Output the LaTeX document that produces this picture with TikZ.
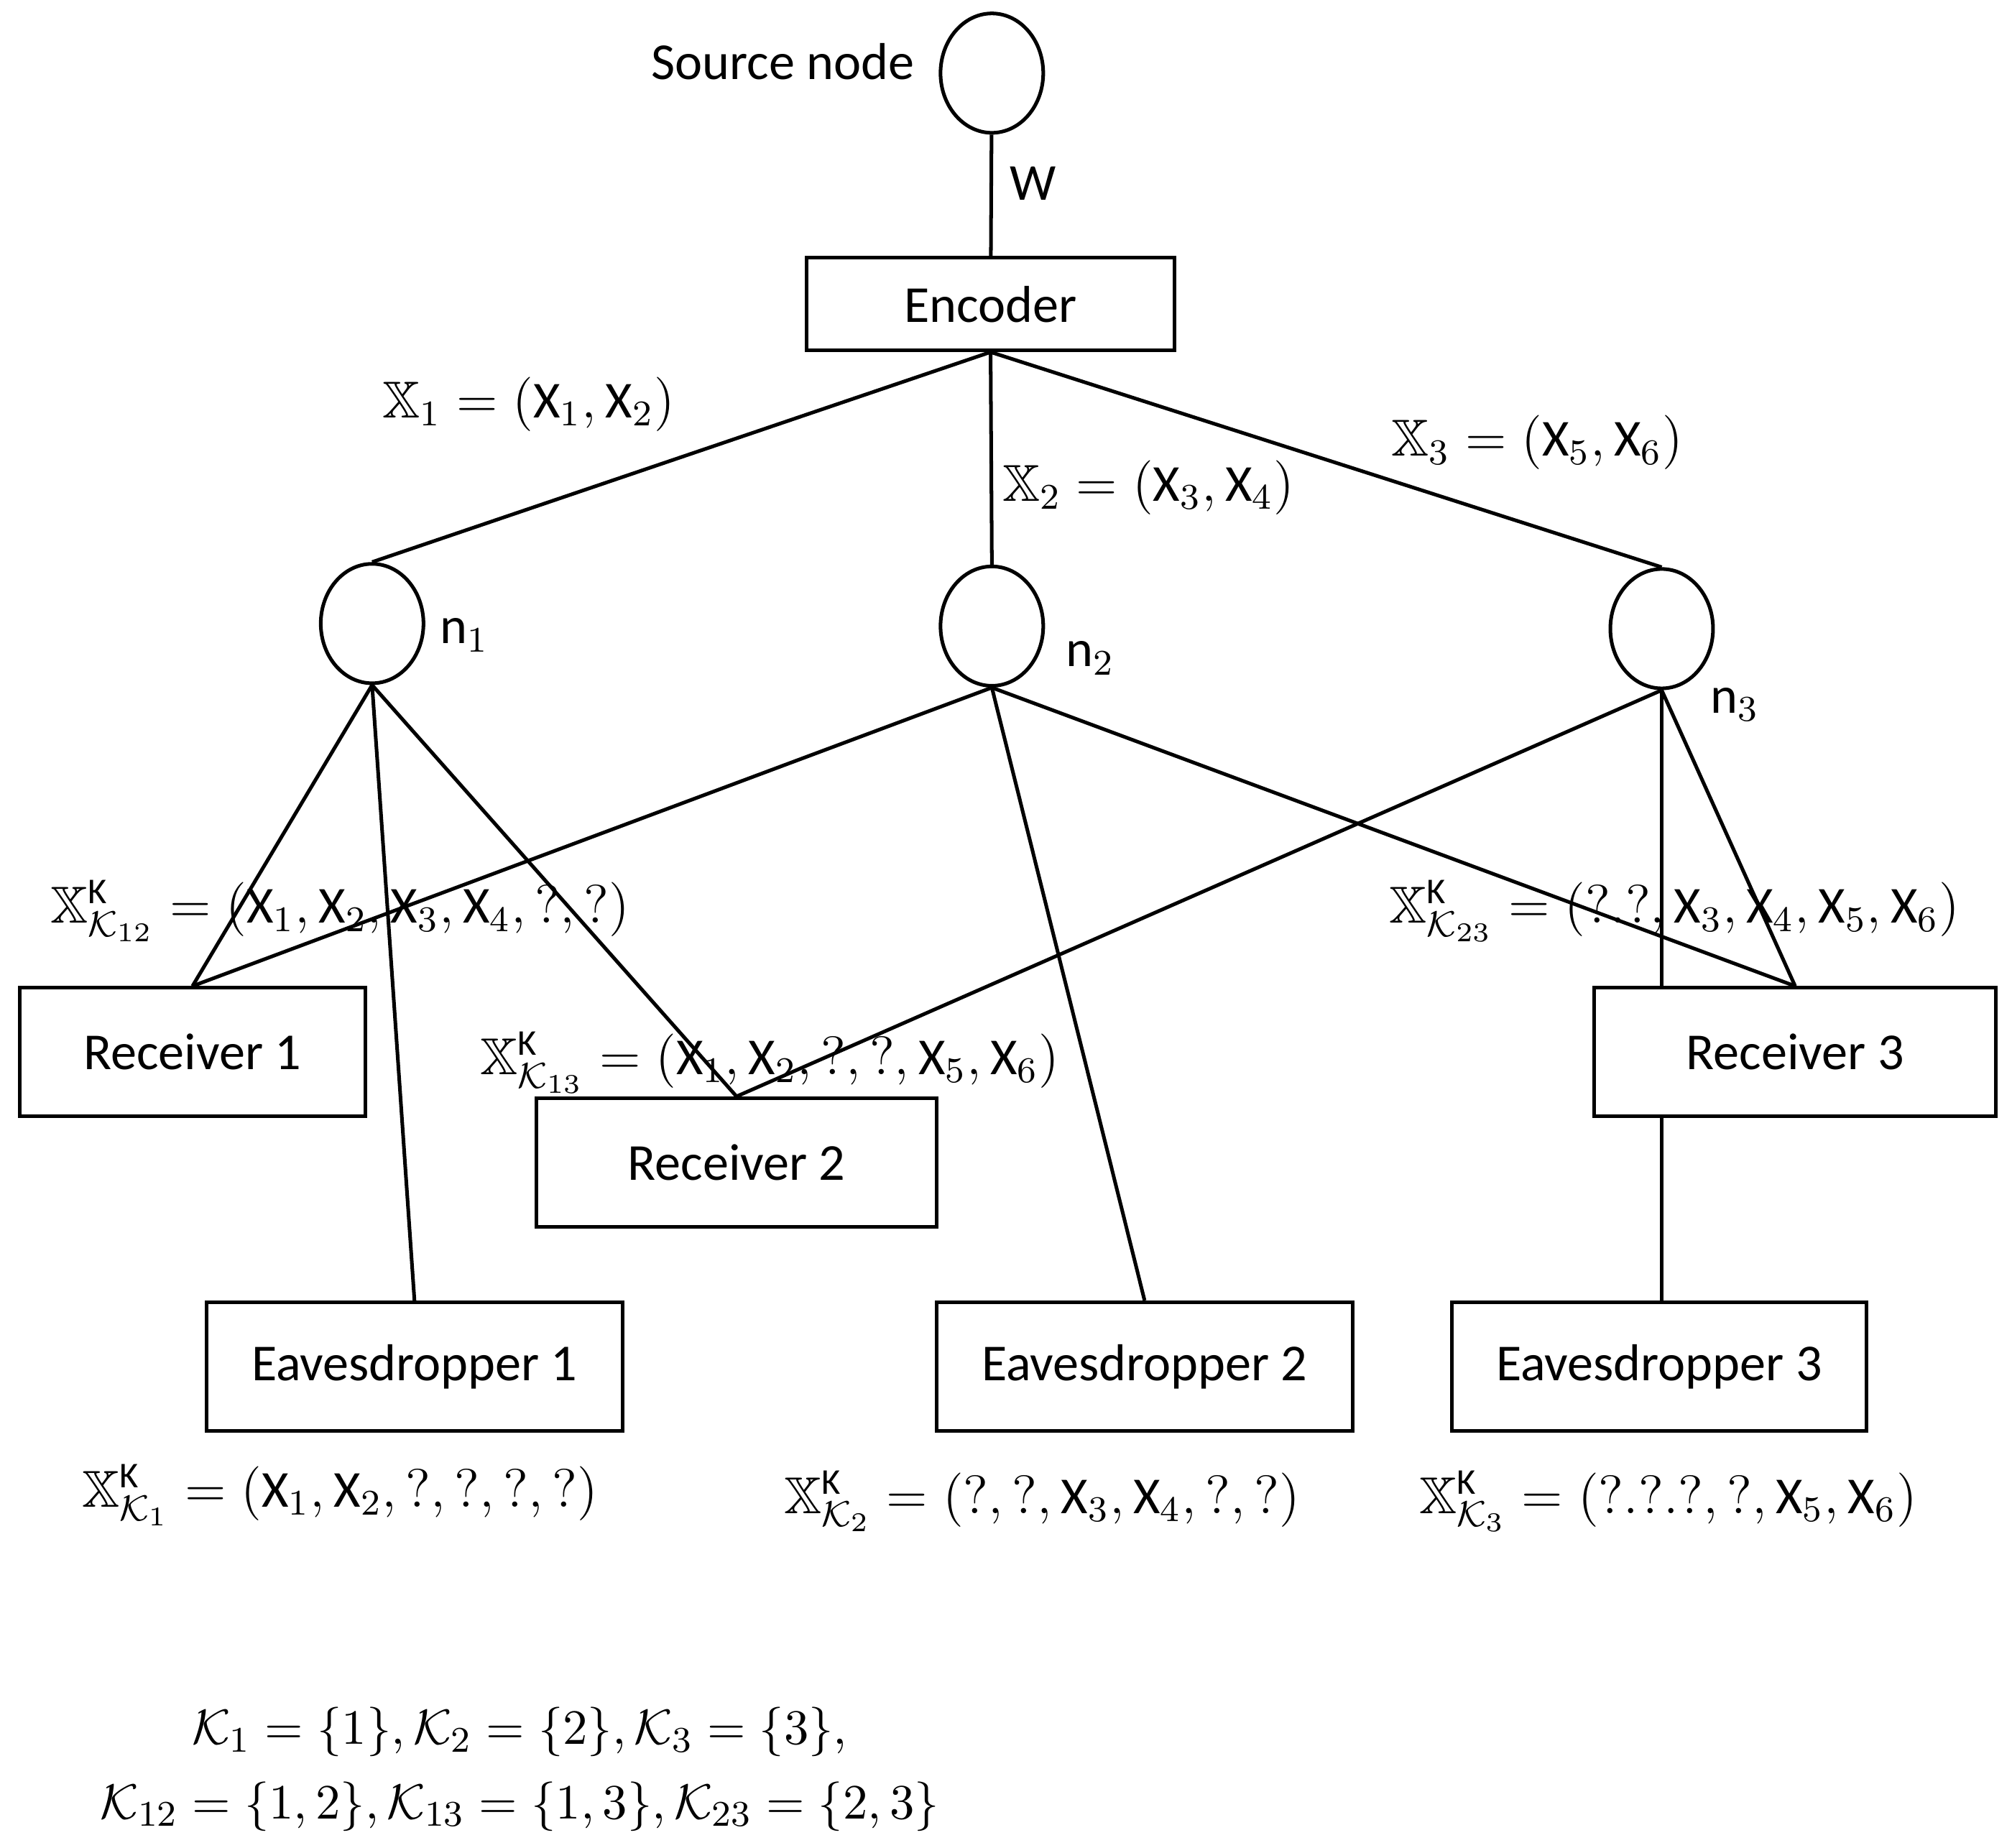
\documentclass[tikz,border=0pt]{standalone}
\usepackage{fontspec}
\usepackage{amssymb}
\setmainfont{Carlito}
\usetikzlibrary{shapes.geometric}
\begin{document}
\begin{tikzpicture}[x=0.01cm, y=-0.01cm, font=\fontsize{11.5}{14}\selectfont,
  every node/.style={inner sep=0pt},
  box/.style={draw, rectangle, thick},
  vert/.style={draw, ellipse, thick, minimum width=0.8cm, minimum height=0.93cm}]
  \useasboundingbox (0,0) rectangle (1568,1440);
  % nodes
  \node[vert] (src) at (773,57) {};
  \node[box, minimum width=2.87cm, minimum height=0.72cm] (enc) at (772,237) {Encoder};
  \node[vert] (n1) at (290,486) {};
  \node[vert] (n2) at (773,488) {};
  \node[vert] (n3) at (1295,490) {};
  \begin{scope}[every node/.style={box, minimum height=1cm}]
    \node[minimum width=2.69cm] (r1) at (150,820) {Receiver 1};
    \node[minimum width=3.12cm] (r2) at (574,906) {Receiver 2};
    \node[minimum width=3.13cm] (r3) at (1399,820) {Receiver 3};
    \node[minimum width=3.24cm] (e1) at (323,1065) {Eavesdropper 1};
    \node[minimum width=3.24cm] (e2) at (892,1065) {Eavesdropper 2};
    \node[minimum width=3.23cm] (e3) at (1293,1065) {Eavesdropper 3};
  \end{scope}
  \coordinate (r3a) at (1295,770);
  \coordinate (r3b) at (1295,870);
  % labels
  \node (srclab) at (610,48) {Source node};
  \node (w) at (805,143) {W};
  \node (l1) at (412,315) {$\mathbb{X}_1=(\mathrm{X}_1,\mathrm{X}_2)$};
  \node (l2) at (895,380) {$\mathbb{X}_2=(\mathrm{X}_3,\mathrm{X}_4)$};
  \node (l3) at (1198,345) {$\mathbb{X}_3=(\mathrm{X}_5,\mathrm{X}_6)$};
  \node (ln1) at (362,495) {$\mathrm{n}_1$};
  \node (ln2) at (850,513) {$\mathrm{n}_2$};
  \node (ln3) at (1352,549) {$\mathrm{n}_3$};
  \node (k12) at (265,710) {$\mathbb{X}^{\mathrm{K}}_{\mathcal{K}_{12}}=(\mathrm{X}_1,\mathrm{X}_2,\mathrm{X}_3,\mathrm{X}_4,?,?)$};
  \node (k23) at (1305,710) {$\mathbb{X}^{\mathrm{K}}_{\mathcal{K}_{23}}=(?.?,\mathrm{X}_3,\mathrm{X}_4,\mathrm{X}_5,\mathrm{X}_6)$};
  \node (k13) at (600,828) {$\mathbb{X}^{\mathrm{K}}_{\mathcal{K}_{13}}=(\mathrm{X}_1,\mathrm{X}_2,?,?,\mathrm{X}_5,\mathrm{X}_6)$};
  \node (k1) at (265,1165) {$\mathbb{X}^{\mathrm{K}}_{\mathcal{K}_{1}}=(\mathrm{X}_1,\mathrm{X}_2,?,?,?,?)$};
  \node (k2) at (812,1170) {$\mathbb{X}^{\mathrm{K}}_{\mathcal{K}_{2}}=(?,?,\mathrm{X}_3,\mathrm{X}_4,?,?)$};
  \node (k3) at (1300,1170) {$\mathbb{X}^{\mathrm{K}}_{\mathcal{K}_{3}}=(?.?.?,?,\mathrm{X}_5,\mathrm{X}_6)$};
  \node[font=\fontsize{11}{13}\selectfont] (sets1) at (405,1350) {$\mathcal{K}_1=\{1\},\mathcal{K}_2=\{2\},\mathcal{K}_3=\{3\},$};
  \node[font=\fontsize{11}{13}\selectfont] (sets2) at (405,1408) {$\mathcal{K}_{12}=\{1,2\},\mathcal{K}_{13}=\{1,3\},\mathcal{K}_{23}=\{2,3\}$};
  % links
  \begin{scope}[thick]
    \draw (src) -- (enc);
    \draw (enc.south) -- (n1.north);
    \draw (enc.south) -- (n2.north);
    \draw (enc.south) -- (n3.north);
    \draw (n1.south) -- (r1.north);
    \draw (n1.south) -- (e1.north);
    \draw (n1.south) -- (r2.north);
    \draw (n2.south) -- (r1.north);
    \draw (n2.south) -- (e2.north);
    \draw (n2.south) -- (r3.north);
    \draw (n3.south) -- (r2.north);
    \draw (n3.south) -- (r3a);
    \draw (n3.south) -- (r3.north);
    \draw (r3b) -- (e3.north -| r3b);
  \end{scope}
\end{tikzpicture}
\end{document}
